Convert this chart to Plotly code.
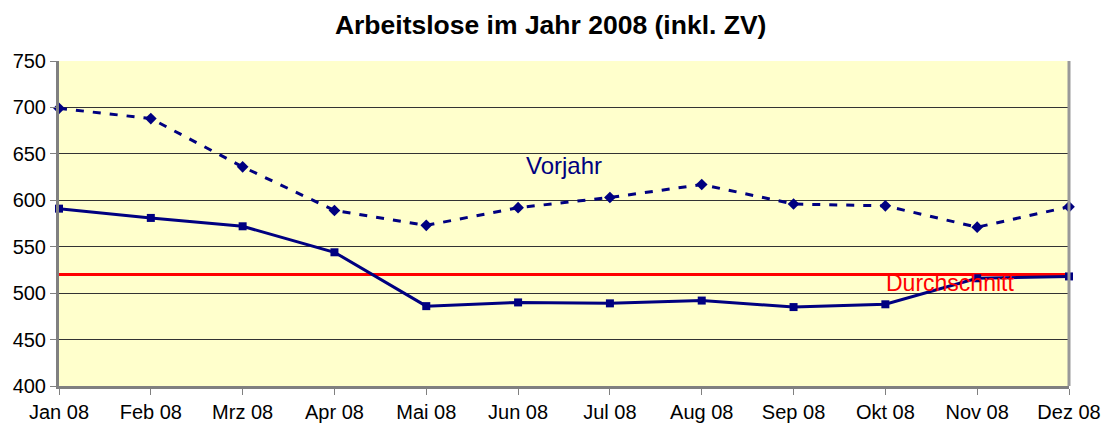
import plotly.graph_objects as go

months = ["Jan 08", "Feb 08", "Mrz 08", "Apr 08", "Mai 08", "Jun 08",
          "Jul 08", "Aug 08", "Sep 08", "Okt 08", "Nov 08", "Dez 08"]
aktuell = [591, 581, 572, 544, 486, 490, 489, 492, 485, 488, 516, 518]
vorjahr = [699, 688, 636, 589, 573, 592, 603, 617, 596, 594, 571, 593]
durchschnitt = 520

navy = "#000080"
fnt = "Arial, Liberation Sans"
fig = go.Figure()
fig.add_trace(go.Scatter(x=months, y=[durchschnitt] * len(months), mode="lines",
                         line=dict(color="#FF0000", width=3), cliponaxis=False,
                         hoverinfo="skip"))
fig.add_trace(go.Scatter(x=months, y=vorjahr, mode="lines+markers",
                         line=dict(color=navy, width=3, dash="8px,9px"),
                         marker=dict(symbol="diamond", size=9, color=navy),
                         cliponaxis=False, name="Vorjahr"))
fig.add_trace(go.Scatter(x=months, y=aktuell, mode="lines+markers",
                         line=dict(color=navy, width=3),
                         marker=dict(symbol="square", size=8, color=navy),
                         cliponaxis=False, name="2008"))

fig.add_annotation(x=5.5, y=638, text="Vorjahr", showarrow=False,
                   font=dict(family=fnt, size=24, color=navy))
fig.add_annotation(x=9.7, y=511, text="Durchschnitt", showarrow=False,
                   font=dict(family=fnt, size=23, color="#FF0000"))

fig.update_layout(
    width=1103, height=417,
    margin=dict(l=51, r=42, t=53, b=39, autoexpand=False),
    paper_bgcolor="white", plot_bgcolor="#FFFFCC",
    showlegend=False,
    font=dict(family=fnt, size=20, color="black"),
    title=dict(text="<b>Arbeitslose im Jahr 2008 (inkl. ZV)</b>", x=0.492, xanchor="center",
               y=0.96, yanchor="middle", font=dict(size=26.5, color="black")),
)
fig.update_xaxes(type="category", range=[0, 11], showgrid=False, showline=True,
                 linecolor="#808080", linewidth=3, ticks="outside", ticklen=6,
                 tickcolor="#808080", tickfont=dict(size=20), automargin=False)
fig.update_yaxes(range=[400, 750], dtick=50, showgrid=True, gridcolor="#333333",
                 gridwidth=1, showline=True, linecolor="#808080", linewidth=3,
                 ticks="outside", ticklen=6, tickcolor="#808080", zeroline=False,
                 tickfont=dict(size=20), mirror=False, automargin=False)
fig.add_shape(type="line", xref="paper", yref="paper", x0=1, x1=1, y0=0, y1=1,
              line=dict(color="#999999", width=3))
fig.write_html("out.html")
